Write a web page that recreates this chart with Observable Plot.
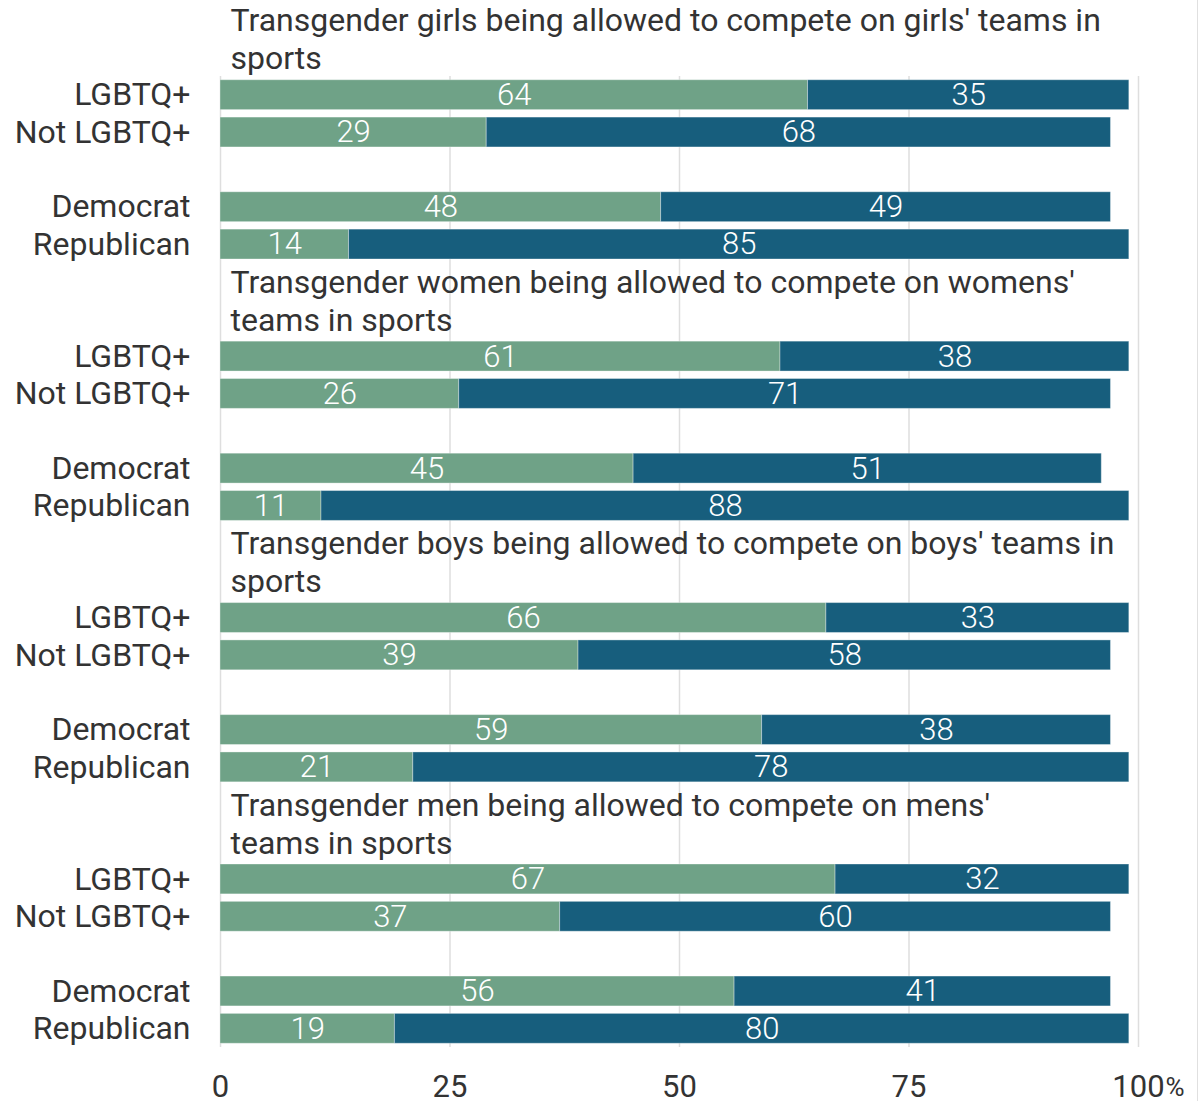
<!DOCTYPE html>
<html>
<head>
<meta charset="utf-8">
<script src="https://cdn.jsdelivr.net/npm/d3@7"></script>
<script src="https://cdn.jsdelivr.net/npm/@observablehq/plot@0.6"></script>
<style>
  html, body { margin: 0; padding: 0; background: #fff; }
  #chart { width: 1197px; height: 1101px; border-right: 1px solid #e0e0e0; }
  #chart svg { display: block; }
</style>
</head>
<body>
<div id="chart"></div>
<script>
const sections = [
  "Transgender girls being allowed to compete on girls' teams in\nsports",
  "Transgender women being allowed to compete on womens'\nteams in sports",
  "Transgender boys being allowed to compete on boys' teams in\nsports",
  "Transgender men being allowed to compete on mens'\nteams in sports"
];
const groups = ["LGBTQ+", "Not LGBTQ+", "Democrat", "Republican"];
const support = [
  [64, 29, 48, 14],
  [61, 26, 45, 11],
  [66, 39, 59, 21],
  [67, 37, 56, 19]
];
const oppose = [
  [35, 68, 49, 85],
  [38, 71, 51, 88],
  [33, 58, 38, 78],
  [32, 60, 41, 80]
];
const xTicks = [0, 25, 50, 75, 100];

const green = "#6fa287";
const blue = "#175e7d";
const ink = "#333333";

// band domain: rows plus spacer slots (pair gap and title lines)
const domain = [];
sections.forEach((s, si) => {
  domain.push(`${si}|0`, `${si}|1`, `${si}|gap`, `${si}|2`, `${si}|3`);
  if (si < sections.length - 1) domain.push(`${si}|t1`, `${si}|t2`);
});

const rows = [];
sections.forEach((s, si) => {
  groups.forEach((g, gi) => {
    rows.push({key: `${si}|${gi}`, group: g, support: support[si][gi], oppose: oppose[si][gi]});
  });
});
const titleRows = sections.map((s, si) => ({key: `${si}|0`, title: s}));
const labelOf = new Map(rows.map(r => [r.key, r.group]));

const chart = Plot.plot({
  width: 1197,
  height: 1101,
  marginLeft: 220,
  marginRight: 59,
  marginTop: 76,
  marginBottom: 54,
  style: {fontFamily: "Roboto, 'Noto Sans', sans-serif", fontSize: "32px", color: ink, background: "#fff"},
  x: {domain: [0, 100], axis: null},
  y: {domain, paddingInner: 0.2, paddingOuter: 0.1, round: false, axis: null},
  marks: [
    Plot.ruleX(xTicks, {stroke: "#dedede", strokeWidth: 1.5}),
    Plot.barX(rows, {y: "key", x1: () => 0, x2: d => d.support, fill: green, stroke: "#fff", strokeOpacity: 0.35, strokeWidth: 1}),
    Plot.barX(rows, {y: "key", x1: d => d.support, x2: d => d.support + d.oppose, fill: blue, stroke: "#fff", strokeOpacity: 0.35, strokeWidth: 1}),
    Plot.text(rows, {y: "key", x: d => d.support / 2, text: d => String(d.support), fill: "white", fontSize: 31, fontWeight: 300}),
    Plot.text(rows, {y: "key", x: d => d.support + d.oppose / 2, text: d => String(d.oppose), fill: "white", fontSize: 31, fontWeight: 300}),
    Plot.text(titleRows, {y: "key", x: () => 0, text: "title", textAnchor: "start", lineAnchor: "middle", lineHeight: 1.19, dx: 10, dy: -57, fill: ink, fontSize: 32}),
    Plot.axisY({ticks: rows.map(r => r.key), tickFormat: k => labelOf.get(k), tickSize: 0, tickPadding: 30, fontSize: 32, fill: ink, label: null}),
    Plot.axisX({ticks: xTicks, tickFormat: d => String(d), tickSize: 0, tickPadding: 27, fontSize: 31, fill: ink, label: null}),
    Plot.text(["%"], {x: () => 100, frameAnchor: "bottom", dy: 40, dx: 27, textAnchor: "start", lineAnchor: "middle", fontSize: 26, fill: ink})
  ]
});
document.getElementById("chart").appendChild(chart);
</script>
</body>
</html>
